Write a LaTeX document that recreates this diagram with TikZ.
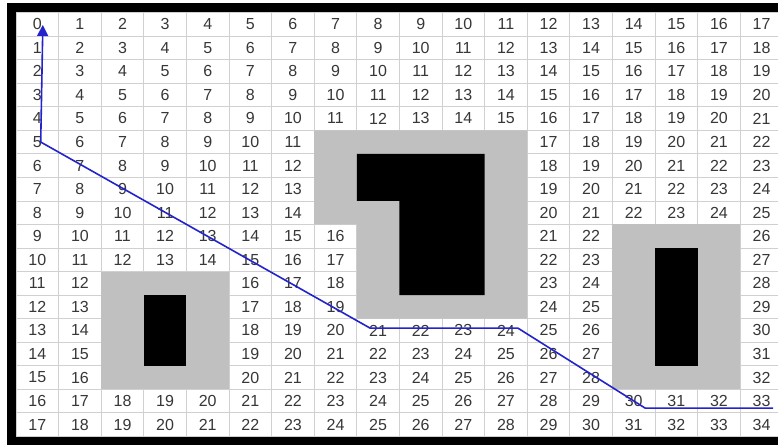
\documentclass[tikz,border=0pt]{standalone}
\usepackage{fontspec}
\setmainfont{Liberation Sans}
\usepackage{tikz}
\usetikzlibrary{arrows.meta}
\definecolor{obsgray}{RGB}{192,192,192}
\definecolor{linegray}{RGB}{208,208,208}
\definecolor{numgray}{RGB}{55,55,55}
\definecolor{routeblue}{RGB}{35,35,205}

\begin{document}
\begin{tikzpicture}[x=42.6pt, y=-23.55pt,
    cellnum/.style={text=numgray, font=\fontsize{16}{16}\selectfont, inner sep=0pt},
    gridline/.style={linegray, line width=0.8pt},
    inflated/.style={fill=obsgray},
    obstacle/.style={fill=black},
    route/.style={routeblue, line width=1.6pt, line join=round}]
    \useasboundingbox (-0.3756,-0.531) rectangle (17.887,18.323);
    \clip (-0.3756,-0.531) rectangle (17.887,18.323);
    \fill[white] (-0.3756,-0.531) rectangle (17.887,18.323);

    % 外框
    \fill[black] (-0.211,-0.403) rectangle (18.5,18.5);
    \fill[white] (0,0) rectangle (18,18);

    % 网格
    \foreach \i in {0,...,18} {
        \draw[gridline] (\i,0) -- (\i,18);
        \draw[gridline] (0,\i) -- (18,\i);
    }

    % 膨胀区
    \fill[inflated] (7,5) -- (12,5) -- (12,13) -- (8,13) -- (8,9) -- (7,9) -- cycle;
    \fill[inflated] (2,11) rectangle (5,16);
    \fill[inflated] (14,9) rectangle (17,16);

    % 障碍物
    \fill[obstacle] (8,6) -- (11,6) -- (11,12) -- (9,12) -- (9,8) -- (8,8) -- cycle;
    \fill[obstacle] (3,12) rectangle (4,15);
    \fill[obstacle] (15,10) rectangle (16,15);

    % 距离值
    \foreach \r in {0,...,17} {
        \foreach \c in {0,...,17} {
            \pgfmathtruncatemacro{\blocked}{((\c==7)&&(\r>=5)&&(\r<=8)) || ((\c>=8)&&(\c<=11)&&(\r>=5)&&(\r<=12)) || ((\c>=2)&&(\c<=4)&&(\r>=11)&&(\r<=15)) || ((\c>=14)&&(\c<=16)&&(\r>=9)&&(\r<=15))}
            \pgfmathtruncatemacro{\dist}{\c+\r}
            \ifnum\blocked=0
                \node[cellnum] (n-\c-\r) at (\c+0.5,\r+0.5) {\dist};
            \fi
        }
    }

    % 路径
    \coordinate (goal) at (0.63,0.53);
    \coordinate (turnA) at (0.58,5.5);
    \coordinate (turnB) at (8.31,13.4);
    \coordinate (turnC) at (11.78,13.4);
    \coordinate (turnD) at (14.77,16.8);
    \coordinate (start) at (17.77,16.8);
    \draw[route, -{Triangle[length=11pt,width=11pt]}] (start) -- (turnD) -- (turnC) -- (turnB) -- (turnA) -- (goal);
\end{tikzpicture}
\end{document}
